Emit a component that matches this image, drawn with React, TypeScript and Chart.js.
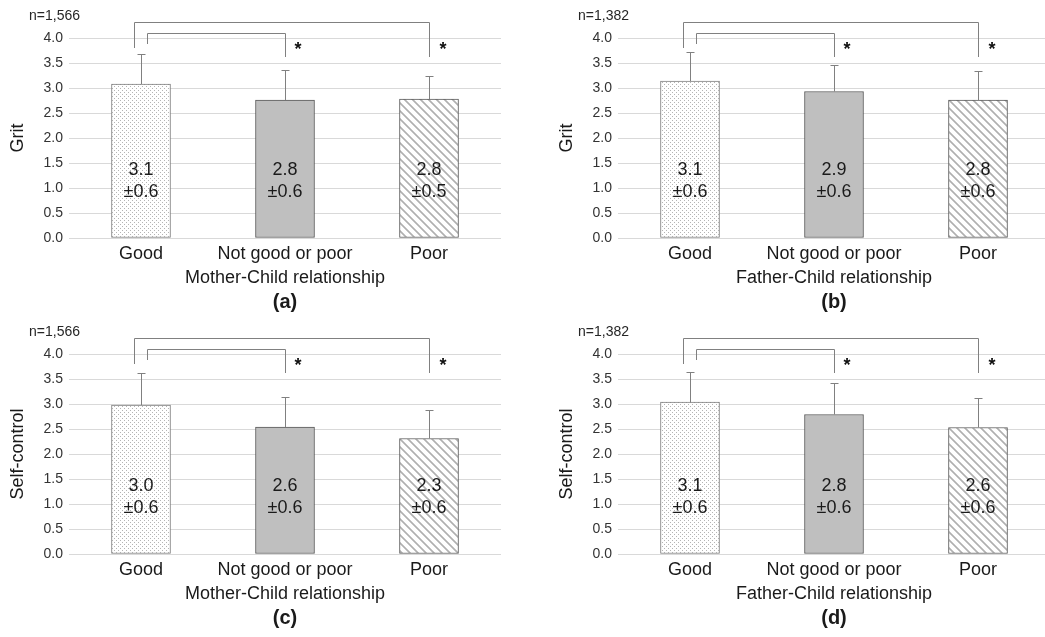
import React, { useEffect, useRef } from "react";
import { Chart, registerables } from "chart.js";

Chart.register(...registerables);

// ---------- data ----------
const categories = ["Good", "Not good or poor", "Poor"];
const yMin = 0;
const yMax = 4;
const yStep = 0.5;

const gritMotherMeans = [3.08, 2.76, 2.78];
const gritMotherSD = [0.6, 0.6, 0.46];
const gritMotherMeanLabels = ["3.1", "2.8", "2.8"];
const gritMotherSDLabels = ["±0.6", "±0.6", "±0.5"];

const gritFatherMeans = [3.14, 2.93, 2.76];
const gritFatherSD = [0.58, 0.53, 0.58];
const gritFatherMeanLabels = ["3.1", "2.9", "2.8"];
const gritFatherSDLabels = ["±0.6", "±0.6", "±0.6"];

const selfMotherMeans = [2.98, 2.54, 2.31];
const selfMotherSD = [0.64, 0.61, 0.58];
const selfMotherMeanLabels = ["3.0", "2.6", "2.3"];
const selfMotherSDLabels = ["±0.6", "±0.6", "±0.6"];

const selfFatherMeans = [3.04, 2.79, 2.53];
const selfFatherSD = [0.61, 0.63, 0.59];
const selfFatherMeanLabels = ["3.1", "2.8", "2.6"];
const selfFatherSDLabels = ["±0.6", "±0.6", "±0.6"];

const sampleMother = "n=1,566";
const sampleFather = "n=1,382";
const relMother = "Mother-Child relationship";
const relFather = "Father-Child relationship";
const titleGrit = "Grit";
const titleSelf = "Self-control";
const significance = "*";

// ---------- styles ----------
const FAMILY = '"Liberation Sans", Arial, sans-serif';
const font = (size: number, bold = false) => `${bold ? "bold " : ""}${size}px ${FAMILY}`;

type PanelCfg = {
  x: number;
  y: number;
  w: number;
  h: number;
  areaLeft: number;
  areaTop: number;
  areaBottom: number;
  means: number[];
  sds: number[];
  meanLabels: string[];
  sdLabels: string[];
  yTitle: string;
  xTitle: string;
  letter: string;
  n: string;
};

const panels: PanelCfg[] = [
  { x: 0, y: 0, w: 520, h: 320, areaLeft: 69, areaTop: 38, areaBottom: 238, means: gritMotherMeans, sds: gritMotherSD, meanLabels: gritMotherMeanLabels, sdLabels: gritMotherSDLabels, yTitle: titleGrit, xTitle: relMother, letter: "(a)", n: sampleMother },
  { x: 520, y: 0, w: 530, h: 320, areaLeft: 98, areaTop: 38, areaBottom: 238, means: gritFatherMeans, sds: gritFatherSD, meanLabels: gritFatherMeanLabels, sdLabels: gritFatherSDLabels, yTitle: titleGrit, xTitle: relFather, letter: "(b)", n: sampleFather },
  { x: 0, y: 320, w: 520, h: 317, areaLeft: 69, areaTop: 34, areaBottom: 234, means: selfMotherMeans, sds: selfMotherSD, meanLabels: selfMotherMeanLabels, sdLabels: selfMotherSDLabels, yTitle: titleSelf, xTitle: relMother, letter: "(c)", n: sampleMother },
  { x: 520, y: 320, w: 530, h: 317, areaLeft: 98, areaTop: 34, areaBottom: 234, means: selfFatherMeans, sds: selfFatherSD, meanLabels: selfFatherMeanLabels, sdLabels: selfFatherSDLabels, yTitle: titleSelf, xTitle: relFather, letter: "(d)", n: sampleFather },
];

function makeDots(): CanvasPattern | string {
  const c = document.createElement("canvas");
  c.width = 4;
  c.height = 4;
  const g = c.getContext("2d");
  if (!g) return "#eeeeee";
  g.fillStyle = "#ffffff";
  g.fillRect(0, 0, 4, 4);
  g.fillStyle = "#b4b4b4";
  g.fillRect(0, 0, 1, 1);
  g.fillRect(2, 2, 1, 1);
  return g.createPattern(c, "repeat") || "#eeeeee";
}

function makeStripes(): CanvasPattern | string {
  const c = document.createElement("canvas");
  const p = 8;
  c.width = p;
  c.height = p;
  const g = c.getContext("2d");
  if (!g) return "#dddddd";
  g.fillStyle = "#ffffff";
  g.fillRect(0, 0, p, p);
  for (let y = 0; y < p; y++) {
    for (let x = 0; x < p; x++) {
      const d = (((x - y) % p) + p) % p;
      if (d < 3) {
        g.fillStyle = d === 1 ? "#b0b0b0" : "#c8c8c8";
        g.fillRect(x, y, 1, 1);
      }
    }
  }
  return g.createPattern(c, "repeat") || "#dddddd";
}

function overlayPlugin(cfg: PanelCfg) {
  return {
    id: "overlay",
    afterDraw(chart: any) {
      const ctx = chart.ctx as CanvasRenderingContext2D;
      const xs = chart.scales.x;
      const ys = chart.scales.y;
      const area = chart.chartArea;
      const cx = categories.map((_, i) => xs.getPixelForValue(i));
      const py = (v: number) => ys.getPixelForValue(v);
      ctx.save();

      // error bars
      ctx.strokeStyle = "#808080";
      ctx.lineWidth = 1;
      cfg.means.forEach((m, i) => {
        const x = Math.round(cx[i]) + 0.5;
        const y0 = py(m);
        const y1 = Math.round(py(m + cfg.sds[i])) + 0.5;
        ctx.beginPath();
        ctx.moveTo(x, y0);
        ctx.lineTo(x, y1);
        ctx.moveTo(x - 4, y1);
        ctx.lineTo(x + 4, y1);
        ctx.stroke();
      });

      // brackets
      const r = (v: number) => Math.round(v) + 0.5;
      ctx.beginPath();
      ctx.moveTo(r(cx[0] - 7), py(3.8));
      ctx.lineTo(r(cx[0] - 7), r(py(4.32)));
      ctx.lineTo(r(cx[2]), r(py(4.32)));
      ctx.lineTo(r(cx[2]), py(3.62));
      ctx.moveTo(r(cx[0] + 6), py(3.88));
      ctx.lineTo(r(cx[0] + 6), r(py(4.1)));
      ctx.lineTo(r(cx[1]), r(py(4.1)));
      ctx.lineTo(r(cx[1]), py(3.62));
      ctx.stroke();

      ctx.textAlign = "center";
      ctx.textBaseline = "middle";
      ctx.fillStyle = "#111111";
      ctx.font = font(18, true);
      ctx.fillText(significance, cx[1] + 13, py(3.75));
      ctx.fillText(significance, cx[2] + 14, py(3.75));

      // value labels inside bars
      ctx.font = font(18);
      ctx.fillStyle = "#1a1a1a";
      cfg.meanLabels.forEach((t, i) => {
        ctx.fillText(t, cx[i], area.bottom - 68);
        ctx.fillText(cfg.sdLabels[i], cx[i], area.bottom - 46);
      });

      // category labels
      ctx.fillStyle = "#1a1a1a";
      categories.forEach((c, i) => ctx.fillText(c, cx[i], area.bottom + 16.5));
      ctx.fillText(cfg.xTitle, cx[1], area.bottom + 40);
      ctx.font = font(20, true);
      ctx.fillText(cfg.letter, cx[1], area.bottom + 64);

      // n label
      ctx.font = font(14);
      ctx.textAlign = "right";
      ctx.fillStyle = "#262626";
      ctx.fillText(cfg.n, area.left + 11, area.top - 22);

      // y title
      ctx.translate(area.left - 51, (area.top + area.bottom) / 2);
      ctx.rotate(-Math.PI / 2);
      ctx.textAlign = "center";
      ctx.font = font(18);
      ctx.fillStyle = "#1a1a1a";
      ctx.fillText(cfg.yTitle, 0, 0);
      ctx.restore();
    },
  };
}

export default function App() {
  const refs = useRef<(HTMLCanvasElement | null)[]>([]);

  useEffect(() => {
    const dots = makeDots();
    const stripes = makeStripes();
    const charts: Chart[] = [];
    panels.forEach((cfg, k) => {
      const canvas = refs.current[k];
      if (!canvas) return;
      const areaRight = cfg.areaLeft + 432;
      const chart = new Chart(canvas, {
        type: "bar",
        data: {
          labels: categories,
          datasets: [
            {
              data: cfg.means,
              backgroundColor: [dots as any, "#bfbfbf", stripes as any],
              borderColor: ["#7f7f7f", "#595959", "#595959"],
              borderWidth: 1,
              borderSkipped: false,
              barThickness: 59,
            },
          ],
        },
        options: {
          responsive: false,
          animation: false,
          events: [],
          layout: {
            padding: { left: 0, top: cfg.areaTop, right: cfg.w - areaRight, bottom: cfg.h - cfg.areaBottom },
          },
          plugins: { legend: { display: false }, tooltip: { enabled: false }, title: { display: false } },
          scales: {
            x: {
              grid: { display: false },
              border: { display: false },
              ticks: { display: false },
              afterFit: (s: any) => {
                s.height = 0;
              },
            },
            y: {
              min: yMin,
              max: yMax,
              ticks: {
                stepSize: yStep,
                callback: (v: any) => Number(v).toFixed(1),
                font: { family: FAMILY, size: 14 },
                color: "#333333",
                padding: 6,
              },
              grid: { color: "#d9d9d9", drawTicks: false, lineWidth: 1 },
              border: { display: false },
              afterFit: (s: any) => {
                s.width = cfg.areaLeft;
              },
            },
          },
        } as any,
        plugins: [overlayPlugin(cfg)],
      });
      charts.push(chart);
    });
    return () => charts.forEach((c) => c.destroy());
  }, []);

  return (
    <div
      style={{
        position: "fixed",
        left: 0,
        top: 0,
        width: 1045,
        height: 637,
        overflow: "hidden",
        background: "#ffffff",
      }}
    >
      {panels.map((p, k) => (
        <canvas
          key={k}
          ref={(el) => {
            refs.current[k] = el;
          }}
          width={p.w}
          height={p.h}
          style={{ position: "absolute", left: p.x, top: p.y, width: p.w, height: p.h }}
        />
      ))}
    </div>
  );
}
